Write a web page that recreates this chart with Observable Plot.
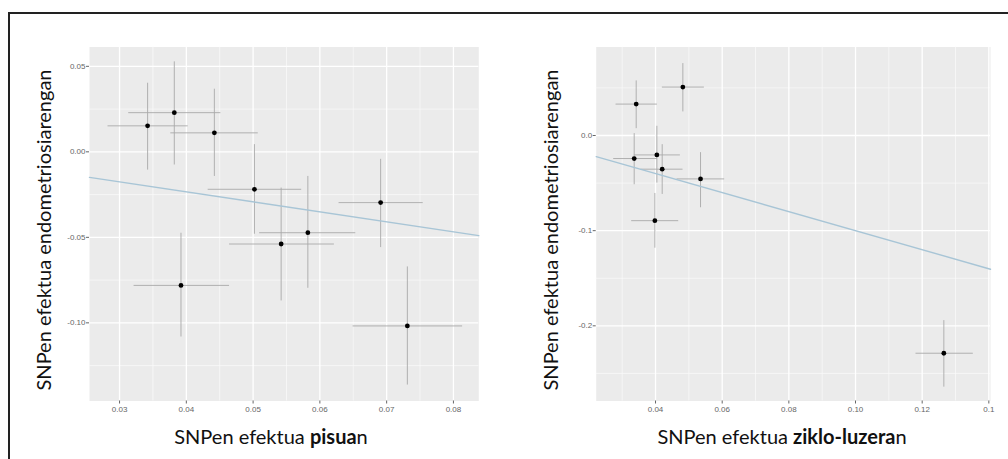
<!DOCTYPE html>
<html><head><meta charset="utf-8">
<script src="https://cdn.jsdelivr.net/npm/d3@7"></script>
<script src="https://cdn.jsdelivr.net/npm/@observablehq/plot@0.6"></script>
<style>
html,body{margin:0;padding:0;background:#fff}
body{width:1008px;height:459px;overflow:hidden;position:relative;font-family:Lato,"Open Sans",sans-serif}
#frameTop{position:absolute;left:8px;top:12px;width:1000px;height:2px;background:#222}
#frameLeft{position:absolute;left:8px;top:12px;width:2px;height:447px;background:#222}
.panel{position:absolute;top:0;height:459px}
.panel svg{max-width:none !important}
.xt,.yt{position:absolute;white-space:nowrap;font-size:20px;color:#111;font-family:Lato,sans-serif;line-height:1}
.xt{transform:translate(-50%,-50%)}
.yt{transform:translate(-50%,-50%) rotate(-90deg)}
.xt b,.yt b{font-weight:700}
</style></head><body>
<div id="frameTop"></div><div id="frameLeft"></div>
<div id="p1" class="panel" style="left:0;width:500px"></div>
<div id="p2" class="panel" style="left:500px;width:508px"></div>
<div class="yt" style="left:43px;top:230px">SNPen efektua endometriosiarengan</div>
<div class="xt" style="left:271px;top:436px">SNPen efektua <b>pisua</b>n</div>
<div class="yt" style="left:550px;top:230px">SNPen efektua endometriosiarengan</div>
<div class="xt" style="left:782px;top:436px">SNPen efektua <b>ziklo-luzera</b>n</div>
<script>
// ---- Left panel: SNP effect on pain (pisua) vs endometriosis ----
const leftX   = [0.0342, 0.0382, 0.0442, 0.0502, 0.0542, 0.0582, 0.0392, 0.0691, 0.0731];
const leftY   = [0.0152, 0.0229, 0.0111, -0.0219, -0.0539, -0.0473, -0.0781, -0.0297, -0.1018];
const leftXLo = [0.0282, 0.0313, 0.0376, 0.0432, 0.0464, 0.0509, 0.0321, 0.0628, 0.0649];
const leftXHi = [0.0402, 0.0451, 0.0507, 0.0572, 0.0621, 0.0653, 0.0464, 0.0754, 0.0813];
const leftYLo = [-0.0104, -0.0074, -0.0141, -0.0479, -0.0869, -0.0795, -0.1080, -0.0557, -0.1361];
const leftYHi = [0.0404, 0.0529, 0.0369, 0.0045, -0.0209, -0.0141, -0.0473, -0.0041, -0.0670];
const leftSlope = -0.585;
const leftXTicks = [0.03, 0.04, 0.05, 0.06, 0.07, 0.08];
const leftXLabels = ["0.03", "0.04", "0.05", "0.06", "0.07", "0.08"];
const leftXMinor = [0.035, 0.045, 0.055, 0.065, 0.075];
const leftYTicks = [0.05, 0.00, -0.05, -0.10];
const leftYLabels = ["0.05", "0.00", "-0.05", "-0.10"];
const leftYMinor = [0.025, -0.025, -0.075, -0.125];

// ---- Right panel: SNP effect on cycle length (ziklo-luzera) vs endometriosis ----
const rightX   = [0.0342, 0.0482, 0.0336, 0.0404, 0.0420, 0.0535, 0.0398, 0.1265];
const rightY   = [0.0330, 0.0509, -0.0242, -0.0204, -0.0354, -0.0456, -0.0895, -0.2288];
const rightXLo = [0.0280, 0.0419, 0.0273, 0.0335, 0.0355, 0.0463, 0.0327, 0.1180];
const rightXHi = [0.0404, 0.0545, 0.0404, 0.0473, 0.0481, 0.0606, 0.0468, 0.1352];
const rightYLo = [0.0077, 0.0253, -0.0512, -0.0495, -0.0614, -0.0754, -0.1179, -0.2639];
const rightYHi = [0.0579, 0.0761, 0.0025, 0.0102, -0.0091, -0.0175, -0.0604, -0.1940];
const rightSlope = -1.0;
const rightXTicks = [0.04, 0.06, 0.08, 0.10, 0.12, 0.14];
const rightXLabels = ["0.04", "0.06", "0.08", "0.10", "0.12", "0.1"];
const rightXMinor = [0.03, 0.05, 0.07, 0.09, 0.11, 0.13];
const rightYTicks = [0.0, -0.1, -0.2];
const rightYLabels = ["0.0", "-0.1", "-0.2"];
const rightYMinor = [0.05, -0.05, -0.15, -0.25];

function rows(x, y, xlo, xhi, ylo, yhi) {
  return x.map((v, i) => ({x: v, y: y[i], xlo: xlo[i], xhi: xhi[i], ylo: ylo[i], yhi: yhi[i]}));
}

function panel(o) {
  const data = rows(o.x, o.y, o.xlo, o.xhi, o.ylo, o.yhi);
  const fit = o.xDomain.map(v => ({x: v, y: o.slope * v}));
  const xl = new Map(o.xTicks.map((t, i) => [t, o.xLabels[i]]));
  const yl = new Map(o.yTicks.map((t, i) => [t, o.yLabels[i]]));
  return Plot.plot({
    width: o.width, height: 459,
    marginLeft: o.ml, marginRight: o.mr, marginTop: 46.5, marginBottom: 58.5,
    style: {fontFamily: "'Liberation Sans', Arial, sans-serif", fontSize: "8px", background: "transparent", overflow: "visible", maxWidth: "none"},
    x: {domain: o.xDomain, label: null},
    y: {domain: o.yDomain, label: null},
    marks: [
      Plot.frame({fill: "#ebebeb", stroke: null}),
      Plot.ruleX(o.xMinor, {stroke: "#fafafa", strokeWidth: 0.7}),
      Plot.ruleY(o.yMinor, {stroke: "#fafafa", strokeWidth: 0.7}),
      Plot.ruleX(o.xTicks, {stroke: "#ffffff", strokeWidth: 1.3}),
      Plot.ruleY(o.yTicks, {stroke: "#ffffff", strokeWidth: 1.3}),
      Plot.link(data, {x1: "xlo", x2: "xhi", y1: "y", y2: "y", stroke: "#a9a9a9", strokeWidth: 0.9}),
      Plot.link(data, {x1: "x", x2: "x", y1: "ylo", y2: "yhi", stroke: "#a9a9a9", strokeWidth: 0.9}),
      Plot.line(fit, {x: "x", y: "y", stroke: "#a8c5d6", strokeWidth: 1.4}),
      Plot.dot(data, {x: "x", y: "y", r: 2.4, fill: "#000", stroke: null}),
      Plot.axisX(o.xTicks, {tickSize: 3, tickPadding: 2, tickFormat: d => xl.get(d), color: "#666", fontSize: 8, label: null}),
      Plot.axisY(o.yTicks, {tickSize: 3, tickPadding: 1, tickFormat: d => yl.get(d), color: "#666", fontSize: 8, label: null})
    ]
  });
}

document.getElementById("p1").append(panel({
  x: leftX, y: leftY, xlo: leftXLo, xhi: leftXHi, ylo: leftYLo, yhi: leftYHi,
  slope: leftSlope, xDomain: [0.0255, 0.0838], yDomain: [-0.1457, 0.0613],
  xTicks: leftXTicks, xLabels: leftXLabels, xMinor: leftXMinor,
  yTicks: leftYTicks, yLabels: leftYLabels, yMinor: leftYMinor,
  width: 500, ml: 89, mr: 21.7
}));
document.getElementById("p2").append(panel({
  x: rightX, y: rightY, xlo: rightXLo, xhi: rightXHi, ylo: rightYLo, yhi: rightYHi,
  slope: rightSlope, xDomain: [0.0222, 0.1405], yDomain: [-0.279, 0.093],
  xTicks: rightXTicks, xLabels: rightXLabels, xMinor: rightXMinor,
  yTicks: rightYTicks, yLabels: rightYLabels, yMinor: rightYMinor,
  width: 508, ml: 95.7, mr: 18
}));
</script>
</body></html>
